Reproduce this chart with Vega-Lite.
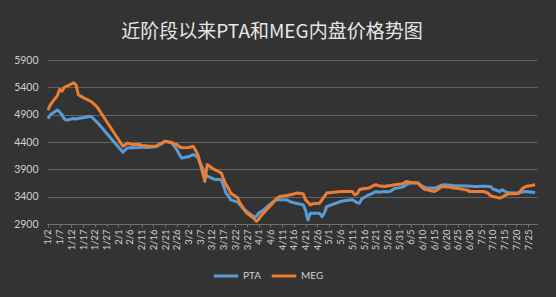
{
  "$schema": "https://vega.github.io/schema/vega-lite/v6.json",
  "width": 490,
  "height": 164,
  "autosize": "none",
  "padding": {"left": 47, "top": 60, "right": 19, "bottom": 73},
  "background": "#333333",
  "title": {
    "text": "近阶段以来PTA和MEG内盘价格势图",
    "font": "Noto Sans CJK SC",
    "fontSize": 19,
    "fontWeight": "normal",
    "color": "#e6e6e6",
    "anchor": "middle",
    "offset": 13,
    "dx": -20
  },
  "config": {
    "view": {"stroke": null},
    "font": "Lato"
  },
  "data": {
    "values": [
      {"d": "2020-01-02", "PTA": 4826, "MEG": 4985},
      {"d": "2020-01-03", "PTA": 4900, "MEG": 5080},
      {"d": "2020-01-06", "PTA": 4985, "MEG": 5250},
      {"d": "2020-01-07", "PTA": 4950, "MEG": 5360},
      {"d": "2020-01-08", "PTA": 4900, "MEG": 5330},
      {"d": "2020-01-09", "PTA": 4820, "MEG": 5400},
      {"d": "2020-01-10", "PTA": 4800, "MEG": 5420},
      {"d": "2020-01-13", "PTA": 4830, "MEG": 5480},
      {"d": "2020-01-14", "PTA": 4820, "MEG": 5440},
      {"d": "2020-01-15", "PTA": 4830, "MEG": 5260},
      {"d": "2020-01-16", "PTA": 4840, "MEG": 5240},
      {"d": "2020-01-17", "PTA": 4845, "MEG": 5210},
      {"d": "2020-01-20", "PTA": 4870, "MEG": 5150},
      {"d": "2020-01-21", "PTA": 4850, "MEG": 5120},
      {"d": "2020-01-22", "PTA": 4800, "MEG": 5080},
      {"d": "2020-01-23", "PTA": 4760, "MEG": 5040},
      {"d": "2020-02-03", "PTA": 4212, "MEG": 4322},
      {"d": "2020-02-04", "PTA": 4260, "MEG": 4350},
      {"d": "2020-02-05", "PTA": 4290, "MEG": 4380},
      {"d": "2020-02-07", "PTA": 4293, "MEG": 4354},
      {"d": "2020-02-10", "PTA": 4300, "MEG": 4360},
      {"d": "2020-02-11", "PTA": 4310, "MEG": 4335},
      {"d": "2020-02-13", "PTA": 4300, "MEG": 4330},
      {"d": "2020-02-14", "PTA": 4305, "MEG": 4320},
      {"d": "2020-02-17", "PTA": 4311, "MEG": 4322},
      {"d": "2020-02-18", "PTA": 4330, "MEG": 4350},
      {"d": "2020-02-20", "PTA": 4380, "MEG": 4390},
      {"d": "2020-02-21", "PTA": 4414, "MEG": 4414},
      {"d": "2020-02-24", "PTA": 4380, "MEG": 4390},
      {"d": "2020-02-25", "PTA": 4320, "MEG": 4360},
      {"d": "2020-02-26", "PTA": 4262, "MEG": 4354},
      {"d": "2020-02-27", "PTA": 4180, "MEG": 4320},
      {"d": "2020-02-28", "PTA": 4109, "MEG": 4293},
      {"d": "2020-03-02", "PTA": 4130, "MEG": 4300},
      {"d": "2020-03-03", "PTA": 4150, "MEG": 4310},
      {"d": "2020-03-04", "PTA": 4170, "MEG": 4322},
      {"d": "2020-03-05", "PTA": 4150, "MEG": 4250},
      {"d": "2020-03-06", "PTA": 4109, "MEG": 4170},
      {"d": "2020-03-09", "PTA": 3833, "MEG": 3678},
      {"d": "2020-03-10", "PTA": 3771, "MEG": 3986},
      {"d": "2020-03-11", "PTA": 3760, "MEG": 3960},
      {"d": "2020-03-12", "PTA": 3740, "MEG": 3925},
      {"d": "2020-03-13", "PTA": 3720, "MEG": 3900},
      {"d": "2020-03-16", "PTA": 3710, "MEG": 3833},
      {"d": "2020-03-17", "PTA": 3600, "MEG": 3720},
      {"d": "2020-03-18", "PTA": 3465, "MEG": 3618},
      {"d": "2020-03-19", "PTA": 3420, "MEG": 3560},
      {"d": "2020-03-20", "PTA": 3342, "MEG": 3465},
      {"d": "2020-03-23", "PTA": 3300, "MEG": 3380},
      {"d": "2020-03-24", "PTA": 3250, "MEG": 3281},
      {"d": "2020-03-25", "PTA": 3200, "MEG": 3220},
      {"d": "2020-03-26", "PTA": 3160, "MEG": 3150},
      {"d": "2020-03-27", "PTA": 3126, "MEG": 3097},
      {"d": "2020-03-30", "PTA": 3034, "MEG": 3000},
      {"d": "2020-03-31", "PTA": 3040, "MEG": 2950},
      {"d": "2020-04-01", "PTA": 3100, "MEG": 2990},
      {"d": "2020-04-02", "PTA": 3130, "MEG": 3050},
      {"d": "2020-04-03", "PTA": 3158, "MEG": 3097},
      {"d": "2020-04-07", "PTA": 3300, "MEG": 3281},
      {"d": "2020-04-08", "PTA": 3330, "MEG": 3340},
      {"d": "2020-04-09", "PTA": 3342, "MEG": 3380},
      {"d": "2020-04-10", "PTA": 3342, "MEG": 3402},
      {"d": "2020-04-13", "PTA": 3342, "MEG": 3420},
      {"d": "2020-04-14", "PTA": 3320, "MEG": 3430},
      {"d": "2020-04-15", "PTA": 3300, "MEG": 3440},
      {"d": "2020-04-16", "PTA": 3290, "MEG": 3450},
      {"d": "2020-04-17", "PTA": 3281, "MEG": 3465},
      {"d": "2020-04-20", "PTA": 3250, "MEG": 3452},
      {"d": "2020-04-21", "PTA": 3150, "MEG": 3342},
      {"d": "2020-04-22", "PTA": 2974, "MEG": 3300},
      {"d": "2020-04-23", "PTA": 3097, "MEG": 3250},
      {"d": "2020-04-24", "PTA": 3097, "MEG": 3270},
      {"d": "2020-04-27", "PTA": 3097, "MEG": 3281},
      {"d": "2020-04-28", "PTA": 3034, "MEG": 3342},
      {"d": "2020-04-29", "PTA": 3100, "MEG": 3400},
      {"d": "2020-04-30", "PTA": 3218, "MEG": 3465},
      {"d": "2020-05-06", "PTA": 3311, "MEG": 3494},
      {"d": "2020-05-07", "PTA": 3320, "MEG": 3494},
      {"d": "2020-05-08", "PTA": 3330, "MEG": 3494},
      {"d": "2020-05-11", "PTA": 3342, "MEG": 3494},
      {"d": "2020-05-12", "PTA": 3320, "MEG": 3434},
      {"d": "2020-05-13", "PTA": 3290, "MEG": 3450},
      {"d": "2020-05-14", "PTA": 3281, "MEG": 3526},
      {"d": "2020-05-15", "PTA": 3360, "MEG": 3540},
      {"d": "2020-05-18", "PTA": 3434, "MEG": 3557},
      {"d": "2020-05-19", "PTA": 3450, "MEG": 3580},
      {"d": "2020-05-20", "PTA": 3470, "MEG": 3600},
      {"d": "2020-05-21", "PTA": 3494, "MEG": 3618},
      {"d": "2020-05-22", "PTA": 3480, "MEG": 3600},
      {"d": "2020-05-25", "PTA": 3494, "MEG": 3587},
      {"d": "2020-05-26", "PTA": 3490, "MEG": 3600},
      {"d": "2020-05-27", "PTA": 3494, "MEG": 3600},
      {"d": "2020-05-28", "PTA": 3520, "MEG": 3610},
      {"d": "2020-05-29", "PTA": 3550, "MEG": 3618},
      {"d": "2020-06-01", "PTA": 3570, "MEG": 3630},
      {"d": "2020-06-02", "PTA": 3587, "MEG": 3650},
      {"d": "2020-06-03", "PTA": 3620, "MEG": 3678},
      {"d": "2020-06-04", "PTA": 3640, "MEG": 3670},
      {"d": "2020-06-05", "PTA": 3649, "MEG": 3660},
      {"d": "2020-06-08", "PTA": 3649, "MEG": 3649},
      {"d": "2020-06-09", "PTA": 3620, "MEG": 3600},
      {"d": "2020-06-10", "PTA": 3587, "MEG": 3560},
      {"d": "2020-06-11", "PTA": 3570, "MEG": 3530},
      {"d": "2020-06-12", "PTA": 3560, "MEG": 3526},
      {"d": "2020-06-15", "PTA": 3557, "MEG": 3494},
      {"d": "2020-06-16", "PTA": 3570, "MEG": 3520},
      {"d": "2020-06-17", "PTA": 3590, "MEG": 3550},
      {"d": "2020-06-18", "PTA": 3610, "MEG": 3580},
      {"d": "2020-06-19", "PTA": 3618, "MEG": 3587},
      {"d": "2020-06-22", "PTA": 3610, "MEG": 3570},
      {"d": "2020-06-23", "PTA": 3600, "MEG": 3560},
      {"d": "2020-06-24", "PTA": 3600, "MEG": 3557},
      {"d": "2020-06-29", "PTA": 3595, "MEG": 3520},
      {"d": "2020-06-30", "PTA": 3590, "MEG": 3494},
      {"d": "2020-07-01", "PTA": 3590, "MEG": 3500},
      {"d": "2020-07-02", "PTA": 3587, "MEG": 3494},
      {"d": "2020-07-03", "PTA": 3587, "MEG": 3494},
      {"d": "2020-07-06", "PTA": 3590, "MEG": 3494},
      {"d": "2020-07-07", "PTA": 3590, "MEG": 3480},
      {"d": "2020-07-08", "PTA": 3588, "MEG": 3460},
      {"d": "2020-07-09", "PTA": 3587, "MEG": 3420},
      {"d": "2020-07-10", "PTA": 3540, "MEG": 3402},
      {"d": "2020-07-13", "PTA": 3494, "MEG": 3373},
      {"d": "2020-07-14", "PTA": 3526, "MEG": 3390},
      {"d": "2020-07-15", "PTA": 3500, "MEG": 3420},
      {"d": "2020-07-16", "PTA": 3480, "MEG": 3440},
      {"d": "2020-07-17", "PTA": 3470, "MEG": 3452},
      {"d": "2020-07-20", "PTA": 3465, "MEG": 3452},
      {"d": "2020-07-21", "PTA": 3470, "MEG": 3460},
      {"d": "2020-07-22", "PTA": 3480, "MEG": 3520},
      {"d": "2020-07-23", "PTA": 3490, "MEG": 3560},
      {"d": "2020-07-24", "PTA": 3494, "MEG": 3587},
      {"d": "2020-07-27", "PTA": 3480, "MEG": 3610},
      {"d": "2020-07-28", "PTA": 3476, "MEG": 3618}
    ]
  },
  "transform": [{"fold": ["PTA", "MEG"], "as": ["series", "price"]}],
  "mark": {"type": "line", "strokeWidth": 3, "interpolate": "linear", "strokeJoin": "round"},
  "encoding": {
    "x": {
      "field": "d",
      "type": "temporal",
      "scale": {
        "type": "utc",
        "domain": [
          {"year": 2020, "month": 1, "date": 1, "hours": 14, "utc": true},
          {"year": 2020, "month": 7, "date": 28, "hours": 20, "utc": true}
        ]
      },
      "axis": {
        "title": null,
        "values": [
          {"year": 2020, "month": 1, "date": 2, "utc": true},
          {"year": 2020, "month": 1, "date": 7, "utc": true},
          {"year": 2020, "month": 1, "date": 12, "utc": true},
          {"year": 2020, "month": 1, "date": 17, "utc": true},
          {"year": 2020, "month": 1, "date": 22, "utc": true},
          {"year": 2020, "month": 1, "date": 27, "utc": true},
          {"year": 2020, "month": 2, "date": 1, "utc": true},
          {"year": 2020, "month": 2, "date": 6, "utc": true},
          {"year": 2020, "month": 2, "date": 11, "utc": true},
          {"year": 2020, "month": 2, "date": 16, "utc": true},
          {"year": 2020, "month": 2, "date": 21, "utc": true},
          {"year": 2020, "month": 2, "date": 26, "utc": true},
          {"year": 2020, "month": 3, "date": 2, "utc": true},
          {"year": 2020, "month": 3, "date": 7, "utc": true},
          {"year": 2020, "month": 3, "date": 12, "utc": true},
          {"year": 2020, "month": 3, "date": 17, "utc": true},
          {"year": 2020, "month": 3, "date": 22, "utc": true},
          {"year": 2020, "month": 3, "date": 27, "utc": true},
          {"year": 2020, "month": 4, "date": 1, "utc": true},
          {"year": 2020, "month": 4, "date": 6, "utc": true},
          {"year": 2020, "month": 4, "date": 11, "utc": true},
          {"year": 2020, "month": 4, "date": 16, "utc": true},
          {"year": 2020, "month": 4, "date": 21, "utc": true},
          {"year": 2020, "month": 4, "date": 26, "utc": true},
          {"year": 2020, "month": 5, "date": 1, "utc": true},
          {"year": 2020, "month": 5, "date": 6, "utc": true},
          {"year": 2020, "month": 5, "date": 11, "utc": true},
          {"year": 2020, "month": 5, "date": 16, "utc": true},
          {"year": 2020, "month": 5, "date": 21, "utc": true},
          {"year": 2020, "month": 5, "date": 26, "utc": true},
          {"year": 2020, "month": 5, "date": 31, "utc": true},
          {"year": 2020, "month": 6, "date": 5, "utc": true},
          {"year": 2020, "month": 6, "date": 10, "utc": true},
          {"year": 2020, "month": 6, "date": 15, "utc": true},
          {"year": 2020, "month": 6, "date": 20, "utc": true},
          {"year": 2020, "month": 6, "date": 25, "utc": true},
          {"year": 2020, "month": 6, "date": 30, "utc": true},
          {"year": 2020, "month": 7, "date": 5, "utc": true},
          {"year": 2020, "month": 7, "date": 10, "utc": true},
          {"year": 2020, "month": 7, "date": 15, "utc": true},
          {"year": 2020, "month": 7, "date": 20, "utc": true},
          {"year": 2020, "month": 7, "date": 25, "utc": true}
        ],
        "labelExpr": "utcFormat(datum.value, '%-m/%-d')",
        "labelAngle": -90,
        "labelAlign": "right",
        "labelBaseline": "middle",
        "labelFontSize": 9.5,
        "labelColor": "#cfcfcf",
        "labelPadding": 2,
        "labelOverlap": false,
        "labelFlush": false,
        "grid": false,
        "domain": true,
        "domainColor": "#707070",
        "ticks": true,
        "tickColor": "#707070",
        "tickSize": 3
      }
    },
    "y": {
      "field": "price",
      "type": "quantitative",
      "scale": {"domain": [2900, 5900], "nice": false, "zero": false},
      "axis": {
        "title": null,
        "values": [2900, 3400, 3900, 4400, 4900, 5400, 5900],
        "format": "d",
        "labelFontSize": 10.5,
        "labelColor": "#cfcfcf",
        "labelPadding": 9,
        "ticks": false,
        "domain": false,
        "grid": true,
        "gridColor": "#636363",
        "gridWidth": 1
      }
    },
    "color": {
      "field": "series",
      "type": "nominal",
      "scale": {"domain": ["PTA", "MEG"], "range": ["#5b9bd5", "#ed7d31"]},
      "legend": {
        "title": null,
        "orient": "none",
        "direction": "horizontal",
        "legendX": 165,
        "legendY": 202,
        "symbolType": "stroke",
        "symbolSize": 600,
        "symbolStrokeWidth": 3,
        "labelColor": "#cfcfcf",
        "labelFontSize": 10,
        "columnPadding": 4,
        "labelOffset": 3
      }
    }
  }
}
